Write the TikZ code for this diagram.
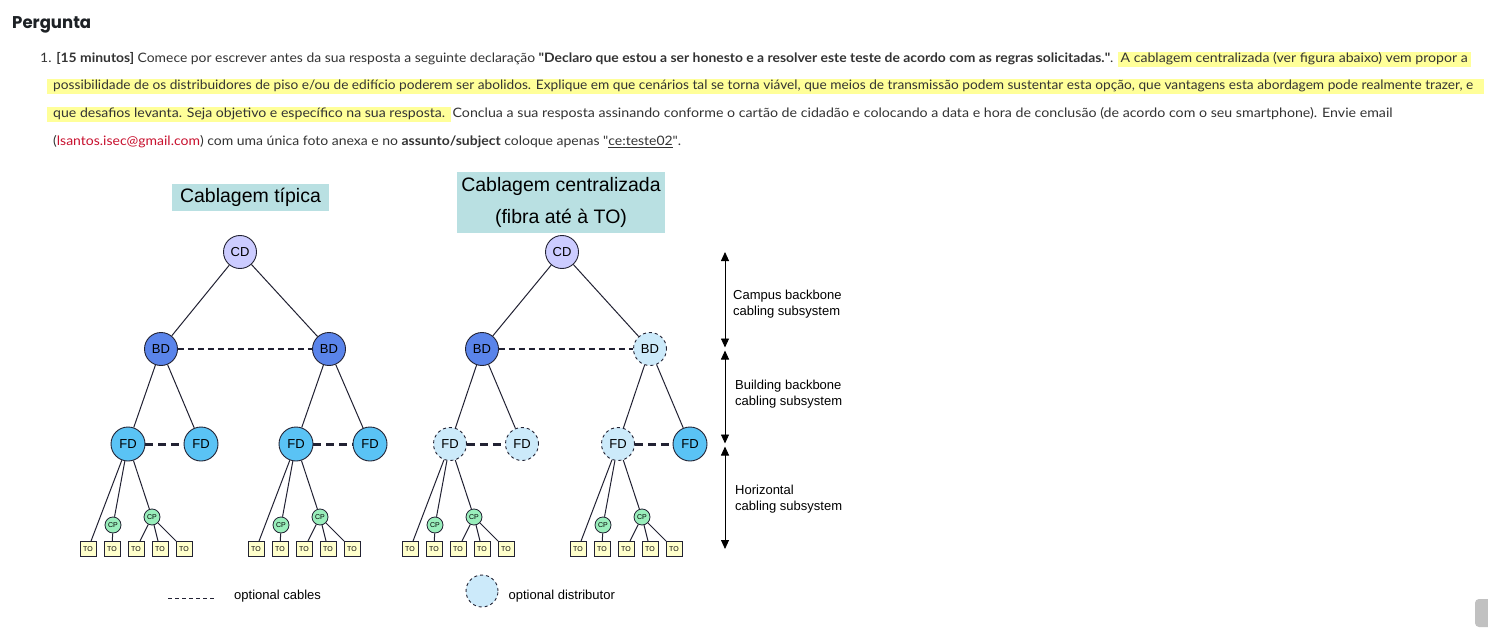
\documentclass[tikz,border=0pt]{standalone}
\usepackage{fontspec}
\usepackage{graphicx}
\setmainfont{Lato}
\newfontfamily\headfont{Poppins}
\newfontfamily\figfont{Liberation Sans}
\usetikzlibrary{shapes,arrows.meta,positioning}

\definecolor{bodytext}{HTML}{333333}
\definecolor{headtext}{HTML}{1D2125}
\definecolor{marker}{HTML}{FFFF99}
\definecolor{mailred}{HTML}{C8102E}
\definecolor{titlefill}{HTML}{B9E0E2}
\definecolor{cdfill}{HTML}{CCCCFF}
\definecolor{bdfill}{HTML}{5A84EA}
\definecolor{fdfill}{HTML}{5AC3F5}
\definecolor{optfill}{HTML}{CCEAFA}
\definecolor{cpfill}{HTML}{99EEBB}
\definecolor{tofill}{HTML}{FFFFCC}
\definecolor{edge}{HTML}{222233}
\definecolor{scrollgrey}{HTML}{C1C1C1}

\newcommand\linefit[2]{\resizebox{#1}{\height}{#2}}

\begin{document}
\begin{tikzpicture}[
    x=1pt, y=-1pt,
    textline/.style={anchor=base west, inner sep=0pt, text=bodytext, font=\fontsize{13}{15}\selectfont},
    marked/.style={textline, fill=marker, text height=10.5pt, text depth=4pt},
    titlebox/.style={fill=titlefill, inner sep=0pt, align=center, font=\figfont\fontsize{19.5}{32}\selectfont},
    dist/.style={circle, draw=edge, line width=0.9pt, minimum size=33pt, inner sep=0pt, font=\figfont\fontsize{13}{13}\selectfont},
    cdnode/.style={dist, fill=cdfill},
    bdnode/.style={dist, fill=bdfill},
    fdnode/.style={dist, fill=fdfill, minimum size=34pt},
    optnode/.style={dist, fill=optfill, dashed},
    cpnode/.style={circle, draw=edge, line width=0.8pt, fill=cpfill, minimum size=16pt, inner sep=0pt, font=\figfont\fontsize{7}{7}\selectfont},
    tobox/.style={rectangle, draw=edge, line width=0.8pt, fill=tofill, minimum width=16pt, minimum height=15pt, inner sep=0pt, font=\figfont\fontsize{7}{7}\selectfont},
    link/.style={draw=edge, line width=1pt},
    optcable/.style={link, line width=1.8pt, dash pattern=on 6pt off 4pt},
    optcablefd/.style={link, line width=3pt, dash pattern=on 8pt off 5pt},
    spanarrow/.style={<->, >={Triangle[width=8pt,length=9pt]}, line width=0.9pt, black},
    spanlabel/.style={anchor=west, align=left, inner sep=0pt, font=\figfont\fontsize{13}{16}\selectfont},
    legendtext/.style={anchor=west, inner sep=0pt, font=\figfont\fontsize{13}{16}\selectfont}
]

% page
\fill[white] (0,0) rectangle (1488,631);
\useasboundingbox (0,0) rectangle (1488,631);
\fill[scrollgrey, rounded corners=4pt] (1475,599) rectangle (1494,627);

% Question text
\node[anchor=base west, inner sep=0pt, text=headtext, font=\headfont\bfseries\fontsize{17}{20}\selectfont] (heading) at (12,29) {\linefit{79pt}{Pergunta}};

\node[textline] (line1a) at (40,63) {\linefit{1073pt}{1. \textbf{[15 minutos]} Comece por escrever antes da sua resposta a seguinte declaração \textbf{\textquotedbl Declaro que estou a ser honesto e a resolver este teste de acordo com as regras solicitadas.\textquotedbl}.}};
\node[marked, inner xsep=3pt] (line1b) at ([xshift=4pt]line1a.base east) {\linefit{347pt}{A cablagem centralizada (ver figura abaixo) vem propor a}};
\node[marked, inner xsep=6pt] (line2) at (47,90) {\linefit{1420pt}{possibilidade de os distribuidores de piso e/ou de edifício poderem ser abolidos. Explique em que cenários tal se torna viável, que meios de transmissão podem sustentar esta opção, que vantagens esta abordagem pode realmente trazer, e}\hspace*{5pt}};
\node[marked, inner xsep=6pt] (line3a) at (47,118) {\linefit{392pt}{que desafios levanta. Seja objetivo e específico na sua resposta.}};
\node[textline] (line3b) at ([xshift=1pt]line3a.base east) {\linefit{940pt}{Conclua a sua resposta assinando conforme o cartão de cidadão e colocando a data e hora de conclusão (de acordo com o seu smartphone). Envie email}};
\node[textline] (line4) at (53,146) {\linefit{628pt}{(\textcolor{mailred}{lsantos.isec@gmail.com}) com uma única foto anexa e no \textbf{assunto/subject} coloque apenas \textquotedbl\underline{ce:teste02}\textquotedbl.}};

% Titles
\node[titlebox, minimum width=157pt, minimum height=27pt] (titleA) at (250.5,197.5) {Cablagem típica};
\node[titlebox, minimum width=208pt, minimum height=61pt] (titleB) at (561,202.5) {Cablagem centralizada\\(fibra até à TO)};

\begin{scope}[on grid]
% Typical cabling
\node[cdnode] (cdA) at (240,252) {CD};
\node[bdnode, below left=97pt and 79pt of cdA] (bdA1) {BD};
\node[bdnode, right=168pt of bdA1] (bdA2) {BD};
\node[fdnode, below left=95pt and 33pt of bdA1] (fdA1) {FD};
\node[fdnode, right=73pt of fdA1] (fdA2) {FD};
\node[fdnode, below left=95pt and 33pt of bdA2] (fdA3) {FD};
\node[fdnode, right=74pt of fdA3] (fdA4) {FD};

% Centralized cabling
\node[cdnode] (cdB) at (562,252) {CD};
\node[bdnode, below left=97pt and 80pt of cdB] (bdB1) {BD};
\node[optnode, right=168pt of bdB1] (bdB2) {BD};
\node[optnode, below left=95pt and 32pt of bdB1] (fdB1) {FD};
\node[optnode, right=72pt of fdB1] (fdB2) {FD};
\node[optnode, below left=95pt and 32pt of bdB2] (fdB3) {FD};
\node[fdnode, right=72pt of fdB3] (fdB4) {FD};

% Consolidation points and outlets
\foreach \f in {fdA1,fdA3,fdB1,fdB3} {
    \node[tobox, below left=105pt and 40pt of \f] (\f-to1) {TO};
    \node[tobox, below left=105pt and 16pt of \f] (\f-to2) {TO};
    \node[tobox, below right=105pt and 8pt of \f] (\f-to3) {TO};
    \node[tobox, below right=105pt and 32pt of \f] (\f-to4) {TO};
    \node[tobox, below right=105pt and 56pt of \f] (\f-to5) {TO};
    \node[cpnode, below left=81pt and 15pt of \f] (\f-cp1) {CP};
    \node[cpnode, below right=73pt and 24pt of \f] (\f-cp2) {CP};
    \draw[link] (\f) -- (\f-to1);
    \draw[link] (\f) -- (\f-cp1) -- (\f-to2);
    \draw[link] (\f) -- (\f-cp2);
    \draw[link] (\f-cp2) -- (\f-to3) (\f-cp2) -- (\f-to4) (\f-cp2) -- (\f-to5);
}
\end{scope}

% Backbone links
\draw[link] (cdA) -- (bdA1);
\draw[link] (cdA) -- (bdA2);
\draw[link] (bdA1) -- (fdA1);
\draw[link] (bdA1) -- (fdA2);
\draw[link] (bdA2) -- (fdA3);
\draw[link] (bdA2) -- (fdA4);
\draw[link] (cdB) -- (bdB1);
\draw[link] (cdB) -- (bdB2);
\draw[link] (bdB1) -- (fdB1);
\draw[link] (bdB1) -- (fdB2);
\draw[link] (bdB2) -- (fdB3);
\draw[link] (bdB2) -- (fdB4);

% Optional cables
\draw[optcable] (bdA1) -- (bdA2);
\draw[optcable] (bdB1) -- (bdB2);
\draw[optcablefd] (fdA1) -- (fdA2);
\draw[optcablefd] (fdA3) -- (fdA4);
\draw[optcablefd] (fdB1) -- (fdB2);
\draw[optcablefd] (fdB3) -- (fdB4);

% Subsystem spans
\coordinate (campusTop) at (725,252);
\coordinate (campusBot) at (725,347.5);
\coordinate (buildTop) at (725,350.5);
\coordinate (buildBot) at (725,443.5);
\coordinate (horizTop) at (725,446.5);
\coordinate (horizBot) at (725,549);
\draw[spanarrow] (campusTop) -- (campusBot);
\draw[spanarrow] (buildTop) -- (buildBot);
\draw[spanarrow] (horizTop) -- (horizBot);
\node[spanlabel] (campusLabel) at (733,304) {Campus backbone\\cabling subsystem};
\node[spanlabel] (buildLabel) at (735,394) {Building backbone\\cabling subsystem};
\node[spanlabel] (horizLabel) at (735,499) {Horizontal\\cabling subsystem};

% Legend
\coordinate (legStart) at (168,598);
\coordinate (legEnd) at (216,598);
\draw[link, dash pattern=on 4pt off 3pt] (legStart) -- (legEnd);
\node[legendtext] (legCables) at (234,596) {optional cables};
\node[optnode, minimum size=32pt] (legDist) at (482,591) {};
\node[legendtext, right=10pt of legDist, yshift=-5pt] (legDistText) {optional distributor};

\end{tikzpicture}
\end{document}
